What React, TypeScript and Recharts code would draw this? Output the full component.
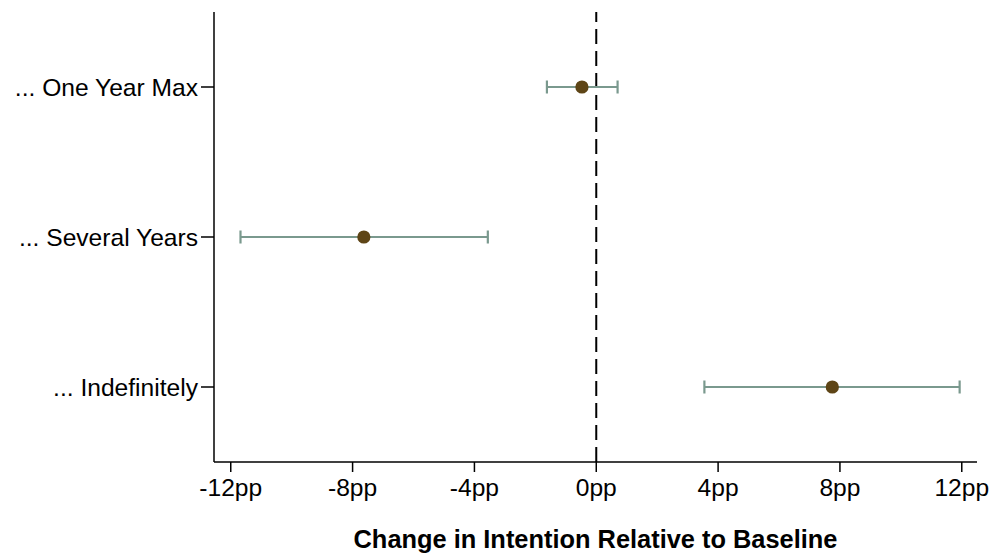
import React from 'react';
import {
  ScatterChart,
  Scatter,
  XAxis,
  YAxis,
  ErrorBar,
  ReferenceLine,
} from 'recharts';

// categories, top to bottom
const categories = ['... One Year Max', '... Several Years', '... Indefinitely'];
// point estimates (pp)
const estimates = [-0.47, -7.63, 7.75];
// confidence interval bounds (pp)
const lowerBounds = [-1.62, -11.68, 3.55];
const upperBounds = [0.7, -3.56, 11.93];
const xTicks = [-12, -8, -4, 0, 4, 8, 12];

const FONT = '"Liberation Sans", Arial, Helvetica, sans-serif';
const DOT_COLOR = '#5e4516';
const BAR_COLOR = '#7a998e';

// build the table the scatter needs; err holds [below, above] distances
const rows = categories.map((name, i) => ({
  name,
  y: i + 1,
  x: estimates[i],
  err: [estimates[i] - lowerBounds[i], upperBounds[i] - estimates[i]],
}));

function Dot(props: any) {
  const { cx, cy } = props;
  if (cx == null || cy == null) return null;
  return <circle cx={cx} cy={cy} r={6.6} fill={DOT_COLOR} />;
}

export default function App() {
  return (
    <div style={{ position: 'absolute', left: 0, top: 0, background: '#fff' }}>
      <ScatterChart
        width={990}
        height={554}
        margin={{ top: 12, right: 13, left: 0, bottom: 0 }}
      >
        <XAxis
          type="number"
          dataKey="x"
          domain={[-12.55, 12.5]}
          ticks={xTicks}
          allowDataOverflow
          tickFormatter={(v) => `${v}pp`}
          stroke="#000"
          strokeWidth={1.5}
          tickSize={10}
          tickMargin={7}
          height={92}
          tick={{ fontSize: 24.6, fill: '#000', fontFamily: FONT }}
          tickLine={{ stroke: '#000', strokeWidth: 1.5 }}
          label={{
            value: 'Change in Intention Relative to Baseline',
            position: 'insideBottom',
            offset: 6,
            style: { fontSize: 25.4, fontWeight: 700, fill: '#000', fontFamily: FONT },
          }}
        />
        <YAxis
          type="number"
          dataKey="y"
          domain={[0.5, 3.5]}
          ticks={[1, 2, 3]}
          reversed
          allowDataOverflow
          width={214}
          tickFormatter={(v) => categories[v - 1] ?? ''}
          stroke="#000"
          strokeWidth={1.5}
          tickSize={13}
          tickMargin={3}
          tick={{ fontSize: 24.6, fill: '#000', fontFamily: FONT }}
          tickLine={{ stroke: '#000', strokeWidth: 1.5 }}
        />
        <ReferenceLine
          x={0}
          stroke="#000"
          strokeWidth={2}
          strokeDasharray="15 7"
        />
        <Scatter data={rows} shape={<Dot />} isAnimationActive={false}>
          <ErrorBar
            dataKey="err"
            direction="x"
            width={6.5}
            stroke={BAR_COLOR}
            strokeWidth={2.2}
            isAnimationActive={false}
          />
        </Scatter>
      </ScatterChart>
    </div>
  );
}
